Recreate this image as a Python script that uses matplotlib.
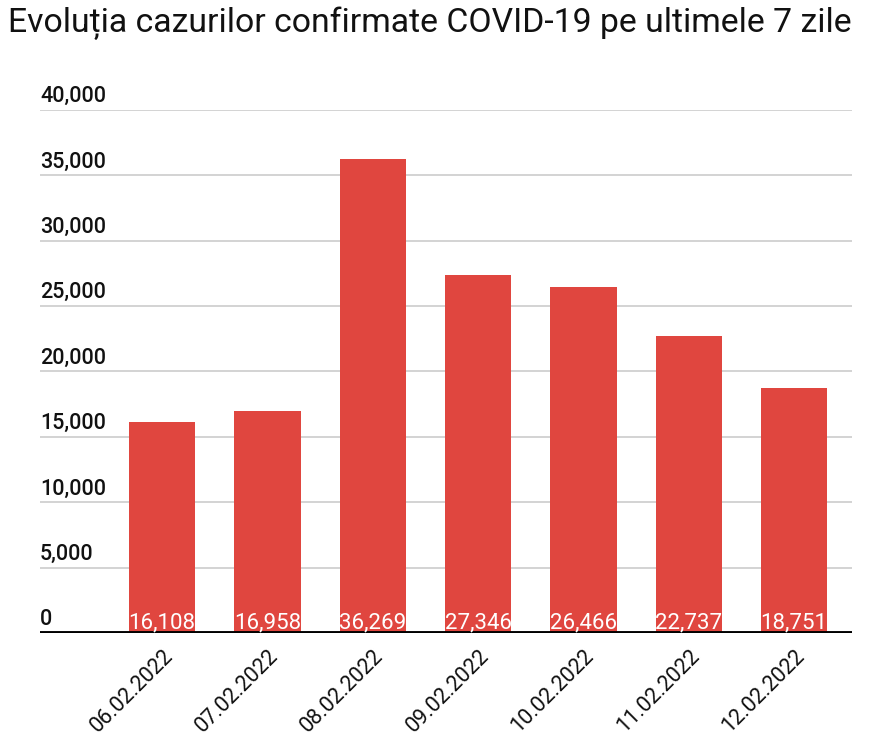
import matplotlib
matplotlib.use("Agg")
import matplotlib.pyplot as plt
import matplotlib.transforms as mtransforms

dates = ["06.02.2022", "07.02.2022", "08.02.2022", "09.02.2022",
         "10.02.2022", "11.02.2022", "12.02.2022"]
cases = [16108, 16958, 36269, 27346, 26466, 22737, 18751]
yticks = [0, 5000, 10000, 15000, 20000, 25000, 30000, 35000, 40000]
title = "Evoluția cazurilor confirmate COVID-19 pe ultimele 7 zile"

plt.rcParams['font.family'] = ['Roboto', 'DejaVu Sans']

fig = plt.figure(figsize=(8.7, 7.38), dpi=100)
W, H = 870, 738
ax = fig.add_axes([40 / W, 1 - 633 / H, (852 - 40) / W, (633 - 110) / H])

x = list(range(len(dates)))
ax.bar(x, cases, width=0.63, color="#E0463F", zorder=2)
ax.set_xlim(-1.16, 6.55)
ax.set_ylim(0, 40000)

for t in yticks:
    if t > 0:
        ax.axhline(t, color="#cccccc", lw=1.2, zorder=1)
ax.axhline(0, color="black", lw=2.8, zorder=3)

trans = mtransforms.blended_transform_factory(ax.transAxes, ax.transData)
off = mtransforms.offset_copy(trans, fig=fig, x=0, y=2, units="points")
for t in yticks:
    ax.text(0.0, t, f"{t:,}", transform=off, ha="left", va="bottom",
            fontsize=15.5, color="#111111", fontweight="medium")

for xi, v in zip(x, cases):
    ax.text(xi, 0, f"{v:,}", ha="center", va="bottom", color="white",
            fontsize=16, zorder=4)

ax.set_yticks([])
ax.set_xticks(x)
ax.set_xticklabels(dates, rotation=45, ha="right", rotation_mode="anchor",
                   fontsize=15.5, color="#111111")
ax.tick_params(axis="x", length=0, pad=9)
for s in ax.spines.values():
    s.set_visible(False)

fig.text(8 / W, 1 - 6 / H, title, ha="left", va="top", fontsize=24.3, color="#111111")

fig.savefig("out.png", dpi=100)
